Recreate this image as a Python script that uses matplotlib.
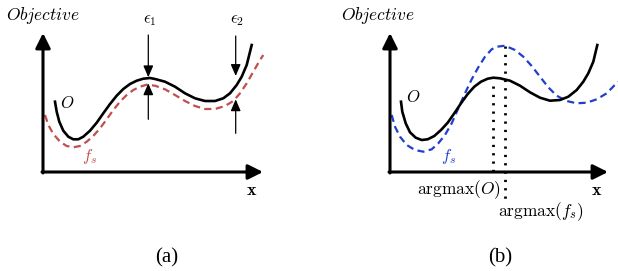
import matplotlib
matplotlib.use("Agg")
import matplotlib.pyplot as plt

plt.rcParams['mathtext.fontset'] = 'cm'

# panel (a): objective O and surrogate f_s (x = distance from y axis, y = height above x axis)
a_o_x = [12.0, 13.7, 16.3, 20.3, 25.3, 30.3, 35.3, 40.3, 47.0, 53.7, 60.3, 67.0, 73.7, 80.3,
         87.0, 93.7, 100.3, 107.0, 112.0, 122.0, 132.0, 142.0, 152.0, 162.0, 172.0, 180.3,
         187.0, 193.7, 198.7, 203.7, 208.7]
a_o_y = [70.3, 60.3, 50.3, 41.3, 35.3, 32.7, 32.7, 35.3, 41.3, 49.3, 58.7, 68.0, 76.3, 83.0,
         88.0, 91.3, 93.3, 94.0, 93.0, 90.3, 85.3, 78.7, 73.7, 71.0, 71.0, 73.7,
         78.7, 87.0, 95.3, 107.0, 127.0]
a_fs_x = [2.0, 5.3, 10.3, 17.0, 23.7, 30.3, 37.0, 43.7, 50.3, 57.0, 63.7, 70.3, 77.0, 83.7,
          90.3, 97.0, 103.7, 112.0, 122.0, 132.0, 142.0, 152.0, 162.0, 172.0, 182.0, 190.3,
          197.0, 203.7, 210.3, 217.0, 220.3]
a_fs_y = [57.0, 47.0, 38.0, 30.3, 26.0, 24.7, 26.0, 30.3, 36.0, 43.7, 52.7, 62.0, 70.3, 77.0,
          82.0, 85.3, 87.3, 86.3, 82.7, 77.0, 71.0, 66.0, 63.0, 63.0, 66.0, 71.0,
          78.7, 88.7, 100.3, 112.0, 117.0]
# error arrows: x, (start, tip) of the upper and lower arrow
eps_x = [105.3, 192.7]
eps_top = [(137.0, 94.7), (136.0, 96.0)]
eps_bot = [(52.7, 88.7), (38.7, 72.7)]
eps_labels = [r'$\epsilon_1$', r'$\epsilon_2$']

# panel (b)
b_o_x = [11.0, 12.3, 15.7, 20.0, 25.7, 31.7, 37.7, 44.3, 51.0, 57.7, 64.3, 71.0, 77.7, 84.3,
         91.0, 97.7, 103.3, 110.0, 120.0, 130.0, 140.0, 150.0, 160.0, 170.0, 178.3, 186.7,
         193.3, 198.3, 203.3, 207.3]
b_o_y = [70.3, 60.3, 48.7, 39.7, 34.3, 32.0, 32.7, 36.0, 42.0, 49.3, 58.7, 68.7, 78.0, 85.3,
         90.3, 93.3, 94.3, 93.7, 91.3, 86.3, 79.7, 74.3, 71.3, 72.0, 75.3, 82.0,
         90.3, 98.7, 110.3, 127.0]
b_fs_x = [1.7, 5.0, 10.0, 16.7, 25.0, 33.3, 41.7, 48.3, 55.0, 61.7, 68.3, 75.0, 81.7, 88.3,
          95.0, 101.7, 107.0, 115.0, 125.0, 133.3, 141.7, 150.0, 158.3, 166.7, 176.7, 186.7,
          196.7, 206.7, 216.7, 228.0]
b_fs_y = [57.0, 45.3, 35.3, 27.0, 22.0, 20.3, 22.7, 28.7, 37.0, 48.7, 63.7, 78.7, 92.7, 104.7,
          115.3, 122.7, 125.3, 126.3, 122.0, 115.3, 106.0, 95.3, 84.7, 76.3, 71.0, 68.7,
          69.3, 72.7, 78.7, 90.3]
argmax_o = 103.3
argmax_fs = 115.0

red = '#c0504d'
blue = '#1f3fcc'

fig = plt.figure(figsize=(6.18, 2.71), dpi=100)
ax_a = fig.add_axes([0, 0, 310 / 618, 1])
ax_b = fig.add_axes([310 / 618, 0, 308 / 618, 1])
ax_a.set_xlim(-43, 267)
ax_b.set_xlim(-80, 228)
for ax in (ax_a, ax_b):
    ax.set_ylim(-99, 172)
    ax.axis('off')


def draw_axes(ax, xtip, ytip):
    head = dict(arrowstyle='-|>,head_length=0.9,head_width=0.45', lw=2.2, color='k',
                shrinkA=0, shrinkB=0)
    ax.annotate('', xy=(xtip, 0), xytext=(-1, 0), arrowprops=head)
    ax.annotate('', xy=(0, ytip), xytext=(0, -1), arrowprops=head)


dash = (0, (3.2, 2.0))

# (a)
draw_axes(ax_a, 220, 139)
ax_a.plot(a_fs_x, a_fs_y, color=red, lw=1.6, ls=dash)
ax_a.plot(a_o_x, a_o_y, color='k', lw=1.9)
thin = dict(arrowstyle='-|>,head_length=0.7,head_width=0.3', lw=0.9, color='k',
            shrinkA=0, shrinkB=0)
for x, (t0, t1), (b0, b1), lab in zip(eps_x, eps_top, eps_bot, eps_labels):
    ax_a.annotate('', xy=(x, t1), xytext=(x, t0), arrowprops=thin)
    ax_a.annotate('', xy=(x, b1), xytext=(x, b0), arrowprops=thin)
    ax_a.text(x + 1, 153, lab, fontsize=12, ha='center', va='center')
ax_a.text(0, 156, r'$Objective$', fontsize=12.5, ha='center', va='center')
ax_a.text(23.7, 69, r'$O$', fontsize=12, ha='center', va='center')
ax_a.text(47, 15, r'$f_s$', fontsize=12, ha='center', va='center', color=red)
ax_a.text(209, -18, r'$\mathbf{x}$', fontsize=13, ha='center', va='center')
ax_a.text(124, -86, '(a)', fontsize=15, ha='center', va='center', family='Liberation Serif')

# (b)
draw_axes(ax_b, 218, 139)
ax_b.plot([argmax_o, argmax_o], [86, 0], color='k', lw=2, ls=(0, (0.8, 2.2)))
ax_b.plot([argmax_fs, argmax_fs], [126, -31], color='k', lw=2, ls=(0, (0.8, 2.2)))
ax_b.plot(b_fs_x, b_fs_y, color=blue, lw=1.6, ls=dash)
ax_b.plot(b_o_x, b_o_y, color='k', lw=1.9)
ax_b.text(-12, 156, r'$Objective$', fontsize=12.5, ha='center', va='center')
ax_b.text(23.3, 75, r'$O$', fontsize=12, ha='center', va='center')
ax_b.text(58.3, 15, r'$f_s$', fontsize=12, ha='center', va='center', color=blue)
ax_b.text(207, -18, r'$\mathbf{x}$', fontsize=13, ha='center', va='center')
ax_b.text(111, -18, r'$\mathrm{argmax}(O)$', fontsize=12.5, ha='right', va='center')
ax_b.text(151, -40, r'$\mathrm{argmax}(f_s)$', fontsize=12.5, ha='center', va='center')
ax_b.text(110, -86, '(b)', fontsize=15, ha='center', va='center', family='Liberation Serif')

fig.savefig('out.png', dpi=100)
